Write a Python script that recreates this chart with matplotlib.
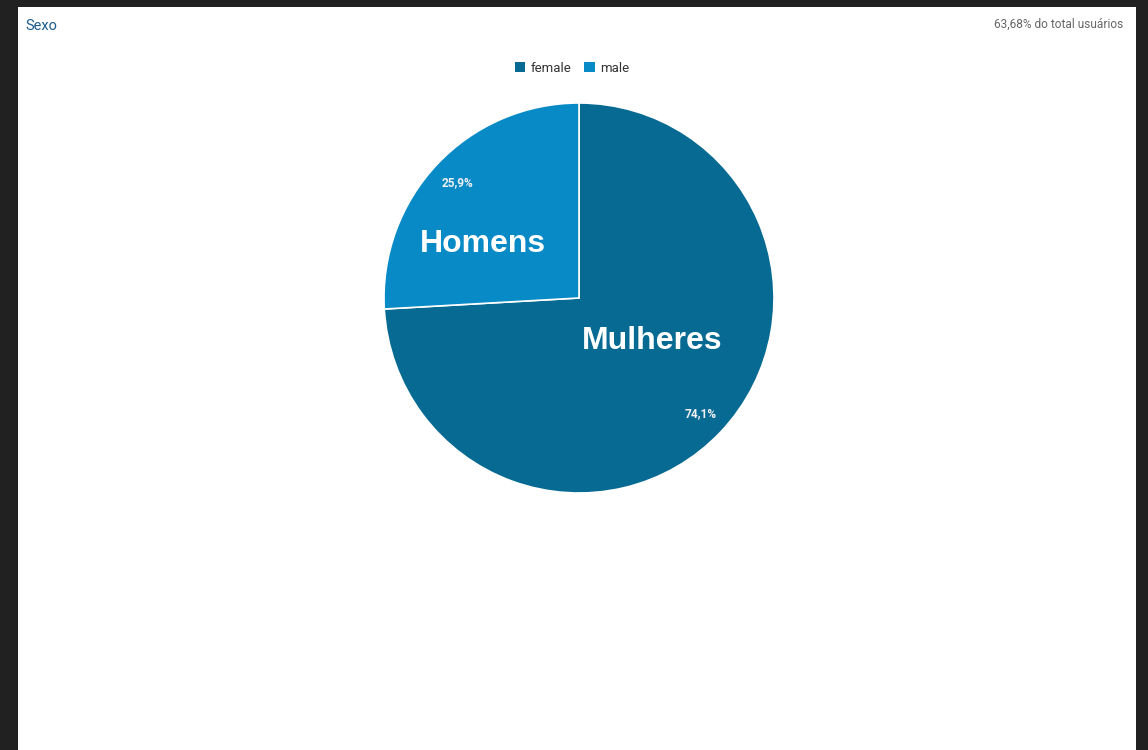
import matplotlib
matplotlib.use("Agg")
import matplotlib.pyplot as plt
from matplotlib.patches import Rectangle, Patch

categories = ["female", "male"]
values = [74.1, 25.9]
big_labels = ["Mulheres", "Homens"]
colors = ["#066a93", "#078ac5"]
title = "Sexo"
subtitle = "63,68% do total usuários"

W, H = 1148, 750
fig = plt.figure(figsize=(W / 100, H / 100), dpi=100)
fig.patch.set_facecolor("#212121")
fig.patches.append(Rectangle((18 / W, 0), (1136 - 18) / W, (H - 7) / H,
                             transform=fig.transFigure, facecolor="white",
                             edgecolor="none", zorder=-10))

cx, cy, r = 579, 298, 195
ax = fig.add_axes([(cx - r) / W, 1 - (cy + r) / H, 2 * r / W, 2 * r / H])
ax.set_zorder(5)

wedges, texts, autotexts = ax.pie(
    values, colors=colors, startangle=90, counterclock=False, radius=1,
    autopct=lambda p: f"{p:.1f}%".replace(".", ","), pctdistance=0.86,
    wedgeprops=dict(edgecolor="white", linewidth=1.2),
    textprops=dict(color="#f0f0f0", fontsize=8.6, fontweight="bold",
                   family=["Roboto", "DejaVu Sans"]))
ax.set_xlim(-1, 1)
ax.set_ylim(-1, 1)
ax.set_aspect("equal")
ax.axis("off")

# large overlay labels
ax.text((652 - cx) / r, -(341 - cy) / r, big_labels[0], color="white",
        fontsize=23, fontweight="bold", family=["Liberation Sans", "DejaVu Sans"],
        ha="center", va="center")
ax.text((483 - cx) / r, -(244 - cy) / r, big_labels[1], color="white",
        fontsize=23, fontweight="bold", family=["Liberation Sans", "DejaVu Sans"],
        ha="center", va="center")

fig.text(25 / W, 1 - 26 / H, title, color="#1b5c8c", fontsize=10.5,
         family=["Roboto", "DejaVu Sans"], ha="left", va="center")
fig.text(1123 / W, 1 - 24 / H, subtitle, color="#666666", fontsize=8.6,
         family=["Roboto", "DejaVu Sans"], ha="right", va="center")

handles = [Patch(facecolor=c, edgecolor="none") for c in colors]
fig.legend(handles, categories, loc="center", bbox_to_anchor=(572 / W, 1 - 68.5 / H),
           ncol=2, frameon=False, handlelength=0.8, handleheight=0.8,
           handletextpad=0.4, columnspacing=1.0,
           prop=dict(family=["Roboto", "DejaVu Sans"], size=9.5), labelcolor="#333333")

fig.savefig("out.png", dpi=100, facecolor=fig.get_facecolor())
